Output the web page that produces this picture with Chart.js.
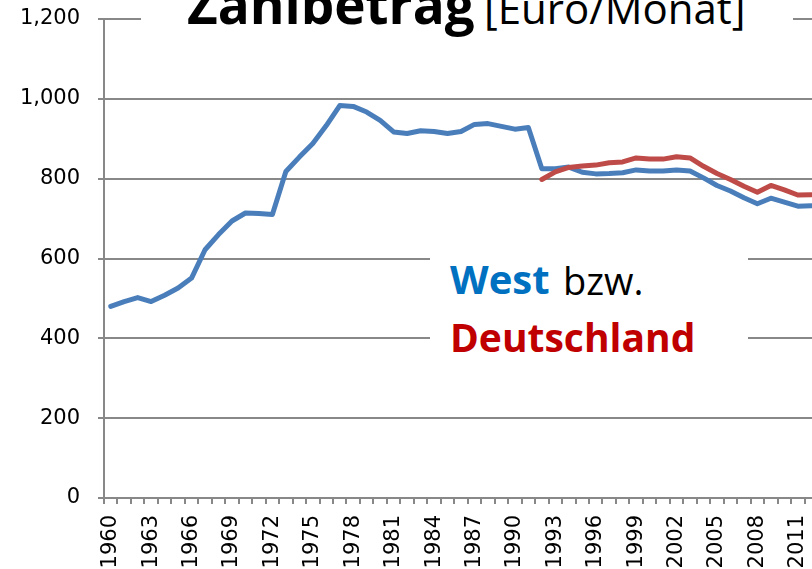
<!DOCTYPE html>
<html>
<head>
<meta charset="utf-8">
<script src="https://cdn.jsdelivr.net/npm/chart.js@4.4.1/dist/chart.umd.min.js"></script>
<style>
  html, body { margin:0; padding:0; width:812px; height:569px; overflow:hidden; background:#fff; }
  #wrap { position:relative; width:812px; height:569px; overflow:hidden; }
  #c { position:absolute; left:0; top:0; }
  .box { position:absolute; background:#fff; }
  .t { position:absolute; font-family:"Open Sans", sans-serif; line-height:1; white-space:nowrap; }
</style>
</head>
<body>
<div id="wrap">
  <canvas id="c" width="830" height="569"></canvas>
  <div class="box" style="left:141px; top:0; width:652px; height:40px;"></div>
  <span class="t" style="left:187px; top:-23px; font-size:53px; font-weight:700; color:#000;">Zahlbetrag</span>
  <span class="t" style="left:484px; top:-13px; font-size:42px; font-weight:400; color:#000;">[Euro/Monat]</span>
  <div class="box" style="left:430px; top:248px; width:318px; height:118px;"></div>
  <span class="t" style="left:450px; top:259px; font-size:40px; font-weight:700; color:#0070C0;">West</span>
  <span class="t" style="left:563px; top:261px; font-size:38px; font-weight:400; color:#000;">bzw.</span>
  <span class="t" style="left:450px; top:317px; font-size:39px; font-weight:700; color:#C00000;">Deutschland</span>
</div>
<script>
const years = [1960,1961,1962,1963,1964,1965,1966,1967,1968,1969,
               1970,1971,1972,1973,1974,1975,1976,1977,1978,1979,
               1980,1981,1982,1983,1984,1985,1986,1987,1988,1989,
               1990,1991,1992,1993,1994,1995,1996,1997,1998,1999,
               2000,2001,2002,2003,2004,2005,2006,2007,2008,2009,
               2010,2011,2012];
const westValues = [480,492,502,492,508,526,551,622,660,694,
                    714,713,710,818,854,888,933,983,981,967,
                    946,917,913,920,918,913,918,936,938,931,
                    924,928,825,825,829,816,812,813,815,822,
                    819,819,822,819,802,783,769,752,737,751,
                    741,731,732];
const deutschlandValues = [null,null,null,null,null,null,null,null,null,null,
                    null,null,null,null,null,null,null,null,null,null,
                    null,null,null,null,null,null,null,null,null,null,
                    null,null,798,817,828,832,834,840,842,852,
                    849,849,855,852,831,813,798,781,766,783,
                    772,759,760];
const yTicks = [0,200,400,600,800,1000,1200];

const gridGray = '#888888';
const tickFont = { family: 'DejaVu Sans', size: 21 };

new Chart(document.getElementById('c'), {
  type: 'line',
  data: {
    labels: years.map(String),
    datasets: [
      { label: 'West', data: westValues, borderColor: '#4A7EBB', backgroundColor: '#4A7EBB',
        borderWidth: 5, pointRadius: 0, tension: 0, borderJoinStyle: 'round', borderCapStyle: 'round', order: 1 },
      { label: 'Deutschland', data: deutschlandValues, borderColor: '#BE4B48', backgroundColor: '#BE4B48',
        borderWidth: 5, pointRadius: 0, tension: 0, borderJoinStyle: 'round', borderCapStyle: 'round', order: 0 }
    ]
  },
  options: {
    responsive: false,
    animation: false,
    devicePixelRatio: 1,
    layout: { padding: { top: 19, right: 12, left: 0, bottom: 0 } },
    plugins: { legend: { display: false }, tooltip: { enabled: false }, title: { display: false } },
    scales: {
      x: {
        type: 'category',
        offset: true,
        grid: { offset: true, drawOnChartArea: false, drawTicks: true, tickLength: 6, color: gridGray, lineWidth: 2 },
        border: { display: true, color: gridGray, width: 2 },
        ticks: {
          autoSkip: false, maxRotation: 90, minRotation: 90, padding: 11,
          color: '#000', font: tickFont,
          callback: function(v, i) { const y = years[i]; return ((y - 1960) % 3 === 0) ? String(y) : ''; }
        },
        afterFit: s => { s.height = 71; s.paddingLeft = 0; s.paddingRight = 0; }
      },
      y: {
        min: 0, max: 1200,
        afterBuildTicks: s => { s.ticks = yTicks.map(v => ({ value: v })); },
        grid: { color: gridGray, lineWidth: 2, tickLength: 6, drawTicks: true },
        border: { display: true, color: gridGray, width: 2 },
        ticks: { padding: 18, color: '#000', font: tickFont,
          callback: v => Number(v).toLocaleString('en-US') },
        afterFit: s => { s.width = 104; s.paddingTop = 0; s.paddingBottom = 0; }
      }
    }
  }
});
</script>
</body>
</html>
